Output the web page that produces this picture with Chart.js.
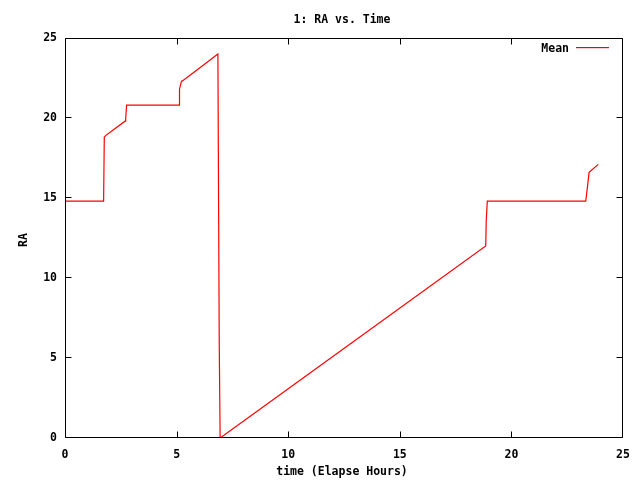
<!DOCTYPE html>
<html>
<head>
<meta charset="utf-8">
<script src="https://cdn.jsdelivr.net/npm/chart.js@4.4.0/dist/chart.umd.min.js"></script>
<style>
  html, body { margin: 0; padding: 0; background: #fff; }
  #wrap { width: 640px; height: 480px; }
</style>
</head>
<body>
<div id="wrap"><canvas id="c" width="640" height="480"></canvas></div>
<script>
const chartTitle = "1: RA vs. Time";
const xAxisTitle = "time (Elapse Hours)";
const yAxisTitle = "RA";
const seriesLabel = "Mean";
const xTicks = [0, 5, 10, 15, 20, 25];
const yTicks = [0, 5, 10, 15, 20, 25];
const timeHours = [0, 1.73, 1.76, 1.82, 2.2, 2.69, 2.72, 2.76, 5.11, 5.13, 5.22, 5.26, 6.0, 6.85,
                   6.87, 6.91, 6.95, 12.0, 18.85, 18.87, 18.92, 23.33, 23.40, 23.48, 23.89];
const raMean = [14.8, 14.8, 18.8, 18.9, 19.3, 19.8, 20.0, 20.8, 20.8, 21.8, 22.3, 22.32, 23.1, 24.0,
                18.0, 6.0, 0.0, 5.1, 12.0, 13.5, 14.8, 14.8, 15.6, 16.6, 17.1];

const FONT = "'DejaVu Sans Mono', 'Liberation Mono', monospace";
const LINE_COLOR = '#ff0000';
const points = timeHours.map((t, i) => ({ x: t, y: raMean[i] }));

const framePlugin = {
  id: 'gnuframe',
  afterDraw(chart) {
    const ctx = chart.ctx;
    const a = chart.chartArea;
    const xs = chart.scales.x, ys = chart.scales.y;
    ctx.save();
    ctx.strokeStyle = '#000';
    ctx.lineWidth = 1;
    const L = a.left + 0.5, R = a.right - 0.5, T = a.top + 0.5, B = a.bottom - 0.5;
    ctx.beginPath();
    ctx.rect(L, T, R - L, B - T);
    // inward ticks, mirrored
    const tl = 6;
    xTicks.forEach(v => {
      let px = Math.round(xs.getPixelForValue(v)) + 0.5;
      px = Math.min(Math.max(px, L), R);
      ctx.moveTo(px, B); ctx.lineTo(px, B - tl);
      ctx.moveTo(px, T); ctx.lineTo(px, T + tl);
    });
    yTicks.forEach(v => {
      let py = Math.round(ys.getPixelForValue(v)) - 0.5;
      py = Math.min(Math.max(py, T), B);
      ctx.moveTo(L, py); ctx.lineTo(L + tl, py);
      ctx.moveTo(R, py); ctx.lineTo(R - tl, py);
    });
    ctx.stroke();

    ctx.fillStyle = '#000';
    ctx.font = 'bold 11.5px ' + FONT;
    ctx.textAlign = 'center';
    ctx.textBaseline = 'middle';
    ctx.fillText(chartTitle, 342, 20);
    ctx.fillText(xAxisTitle, 342, 472);
    ctx.save();
    ctx.translate(24, 240);
    ctx.rotate(-Math.PI / 2);
    ctx.fillText(yAxisTitle, 0, 0);
    ctx.restore();

    // legend
    const ds = chart.data.datasets[0];
    ctx.textAlign = 'right';
    ctx.fillText(ds.label, 569, 49);
    ctx.fillStyle = LINE_COLOR;
    ctx.fillRect(576, 47, 33, 1.2);
    ctx.restore();
  }
};

new Chart(document.getElementById('c'), {
  type: 'scatter',
  data: {
    datasets: [{
      label: seriesLabel,
      data: points,
      showLine: true,
      borderColor: LINE_COLOR,
      backgroundColor: LINE_COLOR,
      borderWidth: 1.2,
      pointRadius: 0,
      tension: 0
    }]
  },
  options: {
    responsive: false,
    animation: false,
    events: [],
    layout: { padding: { top: 38, right: 17, left: 0, bottom: 0 } },
    plugins: {
      legend: { display: false },
      title: { display: false },
      tooltip: { enabled: false }
    },
    scales: {
      x: {
        type: 'linear',
        min: 0, max: 25,
        afterFit(s) { s.height = 42; },
        afterBuildTicks(s) { s.ticks = xTicks.map(v => ({ value: v })); },
        grid: { display: false, drawTicks: false },
        border: { display: false },
        ticks: { color: '#000', font: { family: FONT, size: 11.5, weight: 'bold' }, padding: 10, maxRotation: 0 }
      },
      y: {
        type: 'linear',
        min: 0, max: 25,
        afterFit(s) { s.width = 65; },
        afterBuildTicks(s) { s.ticks = yTicks.map(v => ({ value: v })); },
        grid: { display: false, drawTicks: false },
        border: { display: false },
        ticks: { color: '#000', font: { family: FONT, size: 11.5, weight: 'bold' }, padding: 8 }
      }
    }
  },
  plugins: [framePlugin]
});
</script>
</body>
</html>
